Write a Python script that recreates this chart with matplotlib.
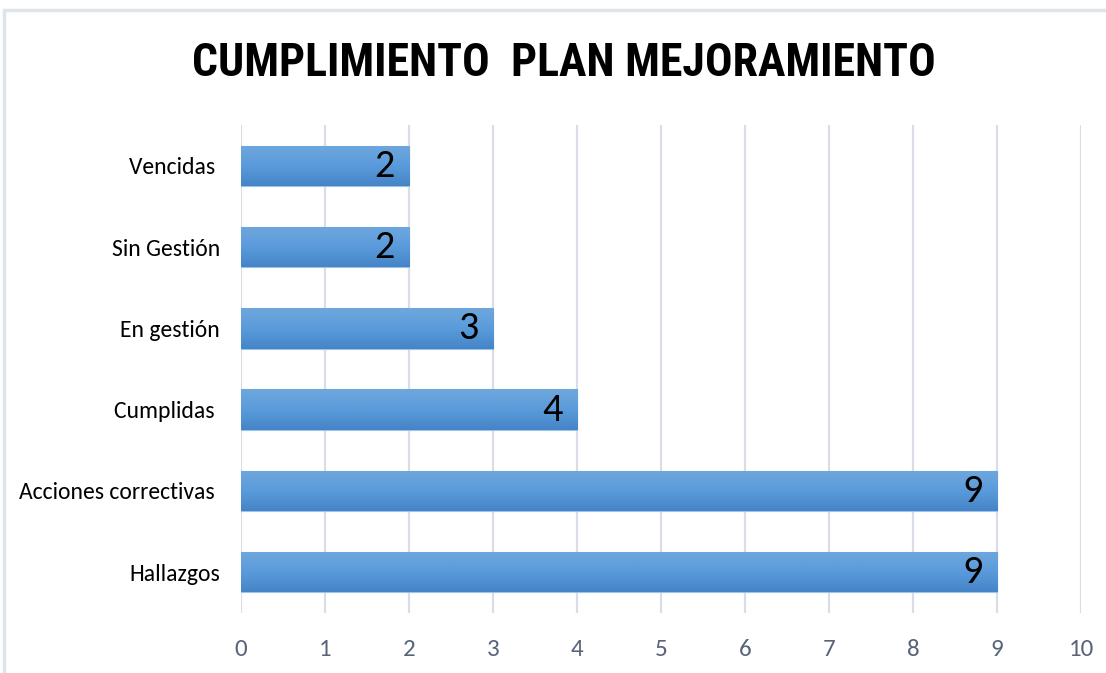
import numpy as np
import matplotlib
matplotlib.use('Agg')
from matplotlib import pyplot as plt
from matplotlib.patches import Rectangle
from matplotlib.colors import LinearSegmentedColormap

plt.rcParams['font.family'] = ['Carlito', 'DejaVu Sans']

# data (bottom to top)
categories = ['Hallazgos', 'Acciones correctivas ', 'Cumplidas ', 'En gestión', 'Sin Gestión', 'Vencidas ']
values = [9, 9, 4, 3, 2, 2]
xticks = list(range(0, 11))

fig = plt.figure(figsize=(11.06, 6.73), dpi=100)
ax = fig.add_axes([0.2179, 0.0897, 0.7595, 0.724])

# light frame round the chart
fig.patches.append(Rectangle((4 / 1106, -0.1), 1.2, 1 - 10 / 673 + 0.1, transform=fig.transFigure,
                             fill=False, edgecolor='#dfe3ea', linewidth=2.5, zorder=0))

ypos = np.arange(len(categories))
bars = ax.barh(ypos, values, height=0.5, color='#5b9bd5', edgecolor='#9cc3e8', linewidth=0.8, zorder=2)

# vertical gradient inside each bar
cmap = LinearSegmentedColormap.from_list('bar', ['#4585c7', '#5a9bdc', '#6fa7dc'])
grad = np.linspace(0, 1, 100).reshape(-1, 1)
for b in bars:
    x0, y0 = b.get_x(), b.get_y()
    w, h = b.get_width(), b.get_height()
    im = ax.imshow(grad, cmap=cmap, aspect='auto', extent=(x0, x0 + w, y0, y0 + h),
                   origin='lower', zorder=2.5)
    im.set_clip_path(b)

for y, v in zip(ypos, values):
    ax.text(v - 0.17, y, str(v), ha='right', va='center', fontsize=29, color='black', zorder=3)

ax.set_xlim(0, 10)
ax.set_ylim(-0.5, len(categories) - 0.5)
ax.set_xticks(xticks)
ax.set_yticks(ypos)
ax.set_yticklabels(categories, fontsize=17)
ax.tick_params(axis='x', labelsize=18, colors='#586379', length=0, pad=19)
ax.tick_params(axis='y', length=0, pad=15, colors='black')
ax.grid(axis='x', color='#d9dee6', linewidth=1.6, zorder=0)
ax.set_axisbelow(True)
for s in ax.spines.values():
    s.set_visible(False)

fig.text(0.510, 0.906, 'CUMPLIMIENTO  PLAN MEJORAMIENTO', ha='center', va='center',
         fontsize=33, fontweight='bold', color='black', family=['Roboto Condensed', 'DejaVu Sans'])

fig.savefig('out.png', dpi=100)
